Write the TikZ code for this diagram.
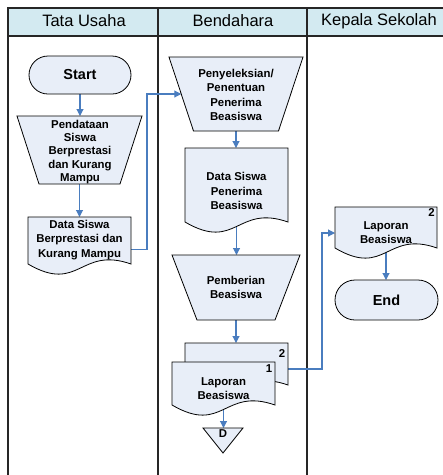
\documentclass[tikz,border=0pt]{standalone}
\usepackage{fontspec}
\setmainfont{Liberation Sans}
\usetikzlibrary{arrows.meta,calc}
\definecolor{hdr}{HTML}{D3EAF1}
\definecolor{shpfill}{HTML}{E8EEF8}
\definecolor{arrc}{HTML}{4A7DBF}
\tikzset{
 frame/.style={line width=1.2pt, draw=black!85},
 shp/.style={draw=black, line width=0.8pt, fill=shpfill},
 anch/.style={rectangle, inner sep=0pt, outer sep=0pt},
 txt/.style={align=center, font=\bfseries\fontsize{11.4}{14.2}\selectfont, inner sep=0pt},
 termtxt/.style={font=\bfseries\fontsize{14.5}{16}\selectfont, inner sep=0pt},
 numtxt/.style={font=\bfseries\fontsize{11.4}{13}\selectfont, inner sep=0pt},
 hdrtxt/.style={font=\fontsize{16.5}{18}\selectfont, inner sep=0pt},
 arr/.style={draw=arrc, line width=1.1pt, -{Triangle[length=7pt,width=7pt]}},
}
\newcommand\docshape[1]{\path[shp] (#1.north west) -- (#1.north east) -- (#1.south east) .. controls ([yshift=18pt]#1.south) and ([yshift=-30pt]#1.south) .. (#1.south west) -- cycle;}
\newcommand\trapshape[2]{\path[shp] (#1.north west) -- (#1.north east) -- ([xshift=-#2]#1.south east) -- ([xshift=#2]#1.south west) -- cycle;}
\begin{document}
\begin{tikzpicture}[x=1pt,y=-1pt]
\useasboundingbox (0,0) rectangle (443,475);
% frame
\fill[hdr] (8,8) rectangle (443,36);
\draw[frame] (443,8) -- (8,8) -- (8,475);
\draw[frame] (8,36) -- (443,36);
\draw[frame] (158,8) -- (158,475);
\draw[frame] (307,8) -- (307,475);
\node[hdrtxt] (h1) at (84,21) {Tata Usaha};
\node[hdrtxt] (h2) at (233,21) {Bendahara};
\node[hdrtxt] (h3) at (379,21) {Kepala Sekolah};
% shape anchor nodes
\node[anch, minimum width=102pt, minimum height=38pt] (start) at (80,75) {};
\node[anch, minimum width=125pt, minimum height=68pt] (pend) at (79.5,150) {};
\node[anch, minimum width=103pt, minimum height=47pt] (data1) at (79.5,240.5) {};
\node[anch, minimum width=134pt, minimum height=74pt] (penyel) at (236,94) {};
\node[anch, minimum width=103pt, minimum height=74pt] (penerima) at (236.5,185) {};
\node[anch, minimum width=128pt, minimum height=65pt] (pemb) at (236,287.5) {};
\node[anch, minimum width=103pt, minimum height=42pt] (lapb) at (236.5,364) {};
\node[anch, minimum width=103pt, minimum height=43pt] (lapa) at (223.5,383.5) {};
\node[anch, minimum width=40pt, minimum height=25pt] (dtri) at (223,440.5) {};
\node[anch, minimum width=102pt, minimum height=41pt] (lapk) at (386,227.5) {};
\node[anch, minimum width=103pt, minimum height=40pt] (end) at (386.5,300) {};
\coordinate (penyel-in) at ($(penyel.north west)!0.5!([xshift=24.5pt]penyel.south west)$);
% connectors (drawn under the shapes)
\draw[arr] (start.south) -- (start.south |- pend.north);
\draw[arr] (pend.south) -- (pend.south |- data1.north);
\draw[arr] ([yshift=-9pt]data1.east) -- ++(16,0) |- (penyel-in);
\draw[arr] (penyel.south) -- (penyel.south |- penerima.north);
\draw[arr] (penerima.south) -- (penerima.south |- pemb.north);
\draw[arr] (pemb.south) -- (pemb.south |- lapb.north);
\draw[arr] (lapa.south) -- (lapa.south |- dtri.north);
\draw[arr] ([yshift=-5pt]lapb.east) -- ++(34,0) |- ([yshift=-5.5pt]lapk.west);
\draw[arr] (lapk.south) -- (lapk.south |- end.north);
% shapes
\path[shp, rounded corners=19pt] (start.north west) rectangle (start.south east);
\trapshape{pend}{22pt}
\docshape{data1}
\trapshape{penyel}{24.5pt}
\docshape{penerima}
\trapshape{pemb}{25pt}
\docshape{lapb}
\docshape{lapa}
\path[shp] (dtri.north west) -- (dtri.north east) -- (dtri.south) -- cycle;
\docshape{lapk}
\path[shp, rounded corners=20pt] (end.north west) rectangle (end.south east);
% texts
\node[termtxt] (start-t) at (80,75) {Start};
\node[termtxt] (end-t) at (386.5,300) {End};
\node[txt, font=\bfseries\fontsize{11.4}{13.2}\selectfont] (pend-t) at (80,152) {Pendataan\\Siswa\\Berprestasi\\dan Kurang\\Mampu};
\node[txt] (data1-t) at (79.5,240) {Data Siswa\\Berprestasi dan\\Kurang Mampu};
\node[txt] (penyel-t) at (236,95) {Penyeleksian/\\Penentuan\\Penerima\\Beasiswa};
\node[txt] (penerima-t) at (236.5,191) {Data Siswa\\Penerima\\Beasiswa};
\node[txt] (pemb-t) at (236,287.5) {Pemberian\\Beasiswa};
\node[txt] (lapa-t) at (223.5,389) {Laporan\\Beasiswa};
\node[numtxt] (n2) at (282,354) {2};
\node[numtxt] (n1) at (269,369) {1};
\node[txt] (d-t) at (223,434) {D};
\node[txt] (lapk-t) at (386,233) {Laporan\\Beasiswa};
\node[numtxt] (n2k) at (431.5,213) {2};
\end{tikzpicture}
\end{document}
